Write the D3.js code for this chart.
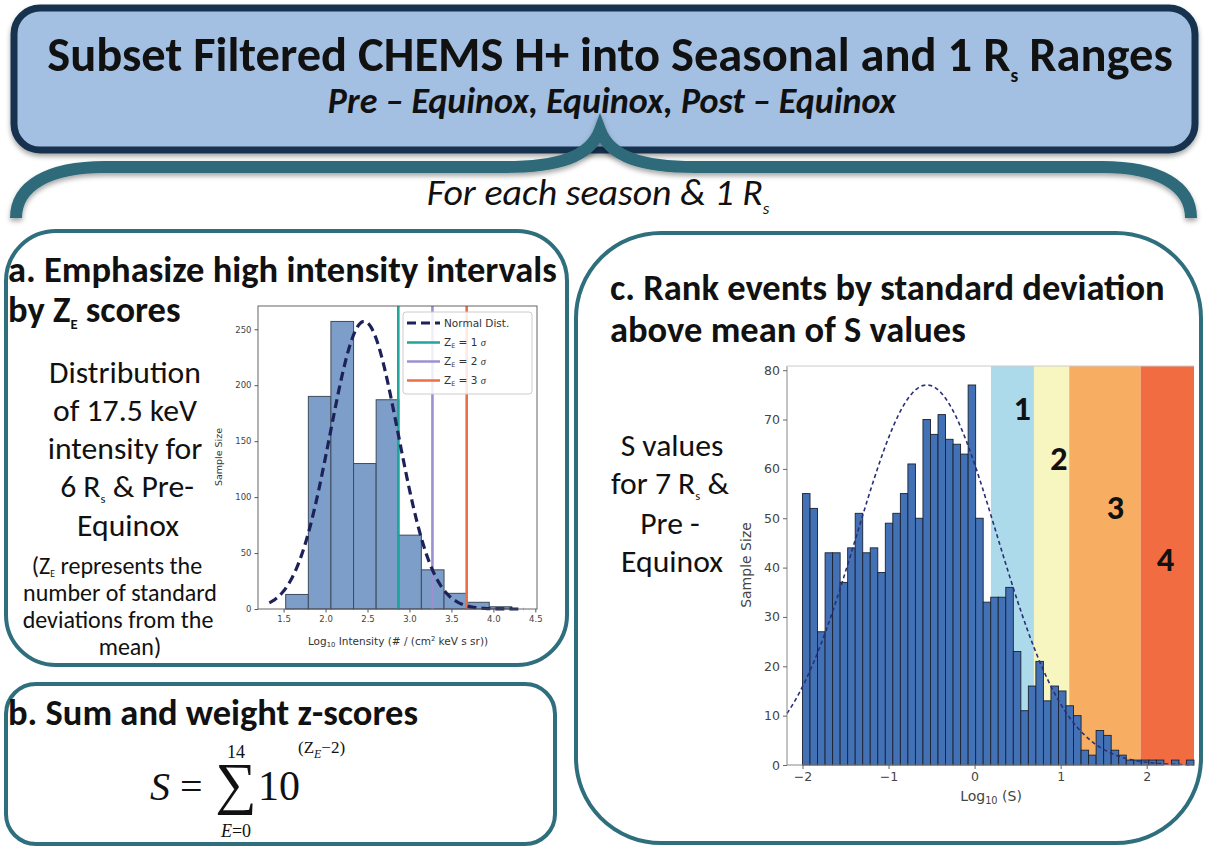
<!DOCTYPE html>
<html><head><meta charset="utf-8">
<script src="https://cdn.jsdelivr.net/npm/d3@7"></script>
<style>body{margin:0;background:#fff}svg{display:block}</style>
</head><body><svg id="chart" width="1207" height="852"></svg>
<script>
// ---------- DATA ----------
// Panel a: 17.5 keV intensity histogram (6 Rs, Pre-Equinox)
const intensityBinEdges = [1.525, 1.795, 2.064, 2.334, 2.603, 2.873, 3.142, 3.412, 3.681, 3.951, 4.22];
const intensityCounts   = [13, 190, 257, 130, 187, 66, 35, 14, 6, 2];
const intensityXTicks   = [1.5, 2.0, 2.5, 3.0, 3.5, 4.0, 4.5];
const intensityYTicks   = [0, 50, 100, 150, 200, 250];
const zScoreLineValues  = [2.867, 3.274, 3.682];
const zScoreNames       = ["1", "2", "3"];
const zScoreColors      = ["#1fa59c", "#9d8fd1", "#ec6e45"];
const intensityNormal   = { mean: 2.46, sd: 0.4075, peak: 257, from: 1.33, to: 4.36 };

// Panel c: Log10(S) histogram (7 Rs, Pre-Equinox)
const sBinStart = -2.0, sBinWidth = 0.0875;
const sCounts = [55,52,27,43,43,37,44,51,43,44,39,49,51,55,61,50,70,67,71,66,65,63,77,50,33,34,34,36,23,11,16,21,13,16,15,12,10,3,2,7,6,3,2,1,1,1,1,1,0,1,0,1];
const sXTicks = [-2, -1, 0, 1, 2];
const sYTicks = [0, 10, 20, 30, 40, 50, 60, 70, 80];
const sNormal = { mean: -0.555, sd: 0.813, peak: 77, from: -2.18, to: 2.55 };
const rankBandEdges  = [0.19, 0.69, 1.10, 1.93, 2.55];
const rankBandColors = ["#acdaea", "#f8f6c0", "#f8ae62", "#f26c42"];
const rankLabels     = ["1", "2", "3", "4"];
const rankLabelX     = [0.56, 0.98, 1.64, 2.22];
const rankLabelY     = [72, 62, 52, 41.5];

// ---------- HELPERS ----------
const SANS = "Carlito, Lato, 'Open Sans', sans-serif";
const MPL = "'DejaVu Sans', sans-serif";
const SERIF = "'Liberation Serif', 'DejaVu Serif', serif";
const TEAL = "#2f6f7d";
const svg = d3.select("#chart");
function fit(sel, target) {
  const w = sel.node().getBBox().width;
  const fs = parseFloat(sel.attr("font-size"));
  sel.attr("font-size", fs * target / w);
  return fs * target / w;
}
function addSub(sel, main, sub, rest, subScale, drop) {
  sel.append("tspan").text(main);
  sel.append("tspan").style("font-size", subScale + "em").attr("dy", (drop / subScale) + "em").text(sub);
  if (rest !== null) sel.append("tspan").style("font-size", "1em").attr("dy", (-drop) + "em").text(rest);
  return sel;
}

const defs = svg.append("defs");
const f = defs.append("filter").attr("id", "sh").attr("x", "-5%").attr("y", "-20%").attr("width", "110%").attr("height", "150%");
f.append("feDropShadow").attr("dx", 0).attr("dy", 3).attr("stdDeviation", 2.5).attr("flood-color", "#000").attr("flood-opacity", 0.35);

// ---------- TOP BOX ----------
svg.append("rect").attr("x", 14).attr("y", 8).attr("width", 1181).attr("height", 142).attr("rx", 26)
  .attr("fill", "#a3bfe1").attr("stroke", "#16334f").attr("stroke-width", 7).attr("filter", "url(#sh)");
const title = svg.append("text").attr("x", 610).attr("y", 71).attr("text-anchor", "middle")
  .attr("font-family", SANS).attr("font-weight", 700).attr("font-size", 40).attr("fill", "#111");
addSub(title, "Subset Filtered CHEMS H+ into Seasonal and 1 R", "s", " Ranges", 0.4, 0.22);
fit(title, 1126);
const sub = svg.append("text").attr("x", 612).attr("y", 113).attr("text-anchor", "middle")
  .attr("font-family", SANS).attr("font-weight", 700).attr("font-style", "italic").attr("font-size", 24).attr("fill", "#111")
  .text("Pre \u2013 Equinox, Equinox, Post \u2013 Equinox");
fit(sub, 570);

// ---------- BRACE ----------
svg.append("path")
  .attr("d", "M16,218 C16,186 48,167 105,167 L505,167 C558,167 590,157 600,130 C610,157 642,167 695,167 L1102,167 C1159,167 1191,186 1191,218")
  .attr("fill", "none").attr("stroke", "#2d6b79").attr("stroke-width", 12).attr("stroke-linejoin", "miter").attr("filter", "url(#sh)");
const each = svg.append("text").attr("x", 598).attr("y", 205).attr("text-anchor", "middle")
  .attr("font-family", SANS).attr("font-style", "italic").attr("font-size", 28).attr("fill", "#111");
addSub(each, "For each season & 1 R", "s", null, 0.45, 0.25);
fit(each, 343);

// ---------- PANEL BOXES ----------
svg.append("rect").attr("x", 6).attr("y", 231).attr("width", 561).attr("height", 434).attr("rx", 50)
  .attr("fill", "#fff").attr("stroke", TEAL).attr("stroke-width", 4);
svg.append("rect").attr("x", 6).attr("y", 684).attr("width", 549).attr("height", 160).attr("rx", 30)
  .attr("fill", "#fff").attr("stroke", TEAL).attr("stroke-width", 4);
svg.append("rect").attr("x", 576).attr("y", 233).attr("width", 625).attr("height", 610).attr("rx", 85)
  .attr("fill", "#fff").attr("stroke", TEAL).attr("stroke-width", 4);

// headings
const hA = svg.append("text").attr("x", 8).attr("y", 282).attr("font-family", SANS).attr("font-weight", 700)
  .attr("font-size", 30).attr("fill", "#111").text("a. Emphasize high intensity intervals");
const headSize = fit(hA, 549);
const hA2 = svg.append("text").attr("x", 8).attr("y", 322).attr("font-family", SANS).attr("font-weight", 700)
  .attr("font-size", headSize).attr("fill", "#111");
addSub(hA2, "by Z", "E", " scores", 0.4, 0.2);
svg.append("text").attr("x", 8).attr("y", 725).attr("font-family", SANS).attr("font-weight", 700)
  .attr("font-size", headSize).attr("fill", "#111").text("b. Sum and weight z-scores");
svg.append("text").attr("x", 610).attr("y", 300).attr("font-family", SANS).attr("font-weight", 700)
  .attr("font-size", headSize).attr("fill", "#111").text("c. Rank events by standard deviation");
svg.append("text").attr("x", 610).attr("y", 342).attr("font-family", SANS).attr("font-weight", 700)
  .attr("font-size", headSize).attr("fill", "#111").text("above mean of S values");

// side texts panel a
const d1 = svg.append("text").attr("x", 125).attr("y", 383).attr("text-anchor", "middle").attr("font-family", SANS)
  .attr("font-size", 30).attr("fill", "#111").text("Distribution");
const bodySize = fit(d1, 152);
const sideA = [["of 17.5 keV", 421], ["intensity for", 459]];
sideA.forEach(([t, y]) => svg.append("text").attr("x", 125).attr("y", y).attr("text-anchor", "middle")
  .attr("font-family", SANS).attr("font-size", bodySize).attr("fill", "#111").text(t));
addSub(svg.append("text").attr("x", 127).attr("y", 497).attr("text-anchor", "middle").attr("font-family", SANS)
  .attr("font-size", bodySize).attr("fill", "#111"), "6 R", "s", " & Pre-", 0.4, 0.2);
svg.append("text").attr("x", 128).attr("y", 536).attr("text-anchor", "middle").attr("font-family", SANS)
  .attr("font-size", bodySize).attr("fill", "#111").text("Equinox");
const sm = svg.append("text").attr("x", 120).attr("y", 601).attr("text-anchor", "middle").attr("font-family", SANS)
  .attr("font-size", 20).attr("fill", "#111").text("number of standard");
const smallSize = fit(sm, 194);
addSub(svg.append("text").attr("x", 117).attr("y", 574).attr("text-anchor", "middle").attr("font-family", SANS)
  .attr("font-size", smallSize).attr("fill", "#111"), "(Z", "E", " represents the", 0.4, 0.12);
svg.append("text").attr("x", 118).attr("y", 628).attr("text-anchor", "middle").attr("font-family", SANS)
  .attr("font-size", smallSize).attr("fill", "#111").text("deviations from the");
svg.append("text").attr("x", 130).attr("y", 655).attr("text-anchor", "middle").attr("font-family", SANS)
  .attr("font-size", smallSize).attr("fill", "#111").text("mean)");

// side texts panel c
svg.append("text").attr("x", 672).attr("y", 456).attr("text-anchor", "middle").attr("font-family", SANS)
  .attr("font-size", bodySize).attr("fill", "#111").text("S values");
addSub(svg.append("text").attr("x", 670).attr("y", 494).attr("text-anchor", "middle").attr("font-family", SANS)
  .attr("font-size", bodySize).attr("fill", "#111"), "for 7 R", "s", " &", 0.4, 0.2);
svg.append("text").attr("x", 670).attr("y", 534).attr("text-anchor", "middle").attr("font-family", SANS)
  .attr("font-size", bodySize).attr("fill", "#111").text("Pre -");
svg.append("text").attr("x", 672).attr("y", 572).attr("text-anchor", "middle").attr("font-family", SANS)
  .attr("font-size", bodySize).attr("fill", "#111").text("Equinox");

// ---------- FORMULA (panel b) ----------
const fy = 800;
svg.append("text").attr("x", 150).attr("y", fy).attr("font-family", SERIF).attr("font-style", "italic")
  .attr("font-size", 40).attr("fill", "#111").text("S");
svg.append("text").attr("x", 180).attr("y", fy).attr("font-family", SERIF).attr("font-size", 40).attr("fill", "#111").text("=");
svg.append("text").attr("x", 236).attr("y", 803).attr("text-anchor", "middle").attr("font-family", SERIF)
  .attr("font-size", 58).attr("fill", "#111").text("\u2211");
svg.append("text").attr("x", 236).attr("y", 758).attr("text-anchor", "middle").attr("font-family", SERIF)
  .attr("font-size", 18).attr("fill", "#111").text("14");
const e0 = svg.append("text").attr("x", 236).attr("y", 837).attr("text-anchor", "middle").attr("font-family", SERIF)
  .attr("font-size", 18).attr("fill", "#111");
e0.append("tspan").attr("font-style", "italic").text("E");
e0.append("tspan").text("=0");
svg.append("text").attr("x", 258).attr("y", fy).attr("font-family", SERIF).attr("font-size", 42).attr("fill", "#111").text("10");
const ex = svg.append("text").attr("x", 298).attr("y", 753).attr("font-family", SERIF).attr("font-size", 17).attr("fill", "#111");
ex.append("tspan").text("(Z");
ex.append("tspan").attr("font-style", "italic").style("font-size", "0.7em").attr("dy", "0.4em").text("E");
ex.append("tspan").style("font-size", "1em").attr("dy", "-0.28em").text("\u22122)");

// ---------- PANEL a CHART ----------
const xA = d3.scaleLinear().domain([1.195, 4.52]).range([258, 537]);
const yA = d3.scaleLinear().domain([0, 270.8]).range([609, 306]);
const gA = svg.append("g");
gA.selectAll("rect.bar").data(intensityCounts).join("rect").attr("class", "bar")
  .attr("x", (d, i) => xA(intensityBinEdges[i]))
  .attr("width", (d, i) => xA(intensityBinEdges[i + 1]) - xA(intensityBinEdges[i]))
  .attr("y", d => yA(d)).attr("height", d => yA(0) - yA(d))
  .attr("fill", "#7d9ec9").attr("stroke", "#3e4b5c").attr("stroke-width", 1);
const nA = d3.range(intensityNormal.from, intensityNormal.to + 0.001, 0.01).map(x =>
  [x, intensityNormal.peak * Math.exp(-Math.pow(x - intensityNormal.mean, 2) / (2 * intensityNormal.sd * intensityNormal.sd))]);
gA.selectAll("line.z").data(zScoreLineValues).join("line").attr("class", "z")
  .attr("x1", d => xA(d)).attr("x2", d => xA(d)).attr("y1", yA.range()[1]).attr("y2", yA(0))
  .attr("stroke", (d, i) => zScoreColors[i]).attr("stroke-width", 2.6);
gA.append("path").attr("d", d3.line().x(d => xA(d[0])).y(d => yA(d[1]))(nA))
  .attr("fill", "none").attr("stroke", "#1c2159").attr("stroke-width", 3.2).attr("stroke-dasharray", "9,5");
gA.append("rect").attr("x", 258).attr("y", 306).attr("width", 279).attr("height", 303)
  .attr("fill", "none").attr("stroke", "#555").attr("stroke-width", 0.9);
const axA = gA.append("g").attr("transform", "translate(0,609)")
  .call(d3.axisBottom(xA).tickValues(intensityXTicks).tickFormat(d3.format(".1f")).tickSize(3.5).tickPadding(3));
const ayA = gA.append("g").attr("transform", "translate(258,0)")
  .call(d3.axisLeft(yA).tickValues(intensityYTicks).tickSize(3.5).tickPadding(3));
[axA, ayA].forEach(a => {
  a.select(".domain").remove();
  a.selectAll("text").attr("font-family", MPL).attr("font-size", 8.5).attr("fill", "#444");
  a.selectAll("line").attr("stroke", "#555");
});
gA.append("text").attr("transform", "translate(222,457) rotate(-90)").attr("text-anchor", "middle")
  .attr("font-family", MPL).attr("font-size", 9.5).attr("fill", "#333").text("Sample Size");
const xlA = gA.append("text").attr("x", 398).attr("y", 645).attr("text-anchor", "middle")
  .attr("font-family", MPL).attr("font-size", 10.5).attr("fill", "#333");
xlA.append("tspan").text("Log");
xlA.append("tspan").style("font-size", "0.65em").attr("dy", "0.35em").text("10");
xlA.append("tspan").style("font-size", "1em").attr("dy", "-0.23em").text(" Intensity (# / (cm");
xlA.append("tspan").style("font-size", "0.65em").attr("dy", "-0.6em").text("2");
xlA.append("tspan").style("font-size", "1em").attr("dy", "0.39em").text(" keV s sr))");
// legend
const lg = gA.append("g");
lg.append("rect").attr("x", 403).attr("y", 312).attr("width", 129).attr("height", 82).attr("rx", 3)
  .attr("fill", "#fff").attr("fill-opacity", 0.85).attr("stroke", "#ccc");
const legRows = [323, 342.5, 361.5, 380.5];
lg.append("line").attr("x1", 407).attr("x2", 440).attr("y1", legRows[0]).attr("y2", legRows[0])
  .attr("stroke", "#1c2159").attr("stroke-width", 3.2).attr("stroke-dasharray", "9,5");
lg.append("text").attr("x", 444).attr("y", legRows[0] + 3.8).attr("font-family", MPL).attr("font-size", 10.5)
  .attr("fill", "#333").text("Normal Dist.");
zScoreNames.forEach((n, i) => {
  const y = legRows[i + 1];
  lg.append("line").attr("x1", 407).attr("x2", 440).attr("y1", y).attr("y2", y)
    .attr("stroke", zScoreColors[i]).attr("stroke-width", 2.6);
  const t = lg.append("text").attr("x", 444).attr("y", y + 3.8).attr("font-family", MPL).attr("font-size", 10.5).attr("fill", "#333");
  t.append("tspan").text("Z");
  t.append("tspan").style("font-size", "0.6em").attr("dy", "0.3em").text("E");
  t.append("tspan").style("font-size", "1em").attr("dy", "-0.18em").text(" = " + n + " ");
  t.append("tspan").attr("font-style", "italic").attr("font-family", SERIF).text("\u03c3");
});

// ---------- PANEL c CHART ----------
const xC = d3.scaleLinear().domain([-2.18, 2.55]).range([787, 1194]);
const yC = d3.scaleLinear().domain([0, 80.85]).range([765, 366]);
const gC = svg.append("g");
gC.selectAll("rect.band").data(rankBandColors).join("rect").attr("class", "band")
  .attr("x", (d, i) => xC(rankBandEdges[i])).attr("width", (d, i) => xC(rankBandEdges[i + 1]) - xC(rankBandEdges[i]))
  .attr("y", yC.range()[1]).attr("height", yC(0) - yC.range()[1]).attr("fill", d => d);
gC.selectAll("rect.bar").data(sCounts).join("rect").attr("class", "bar")
  .attr("x", (d, i) => xC(sBinStart + i * sBinWidth))
  .attr("width", (d, i) => xC(sBinStart + (i + 1) * sBinWidth) - xC(sBinStart + i * sBinWidth))
  .attr("y", d => yC(d)).attr("height", d => yC(0) - yC(d))
  .attr("fill", "#4271b6").attr("stroke", "#1b2230").attr("stroke-width", 0.9);
const nC = d3.range(sNormal.from, sNormal.to + 0.001, 0.01).map(x =>
  [x, sNormal.peak * Math.exp(-Math.pow(x - sNormal.mean, 2) / (2 * sNormal.sd * sNormal.sd))]);
gC.append("path").attr("d", d3.line().x(d => xC(d[0])).y(d => yC(d[1]))(nC))
  .attr("fill", "none").attr("stroke", "#2a2f78").attr("stroke-width", 1.6).attr("stroke-dasharray", "4,3");
gC.selectAll("text.rank").data(rankLabels).join("text").attr("class", "rank")
  .attr("x", (d, i) => xC(rankLabelX[i])).attr("y", (d, i) => yC(rankLabelY[i]))
  .attr("dy", "0.36em").attr("text-anchor", "middle").attr("font-family", "Lato, sans-serif").attr("font-weight", 900)
  .attr("font-size", 30).attr("fill", "#111").text(d => d);
gC.append("path").attr("d", `M787,366 L787,765 L1194,765`).attr("fill", "none").attr("stroke", "#888").attr("stroke-width", 1);
gC.append("line").attr("x1", 787).attr("x2", 1194).attr("y1", 366).attr("y2", 366).attr("stroke", "#ccc").attr("stroke-width", 1);
const axC = gC.append("g").attr("transform", "translate(0,765)")
  .call(d3.axisBottom(xC).tickValues(sXTicks).tickFormat(d3.format("d")).tickSize(4).tickPadding(3));
const ayC = gC.append("g").attr("transform", "translate(787,0)")
  .call(d3.axisLeft(yC).tickValues(sYTicks).tickSize(4).tickPadding(3));
[axC, ayC].forEach(a => {
  a.select(".domain").remove();
  a.selectAll("text").attr("font-family", MPL).attr("font-size", 12.5).attr("fill", "#444");
  a.selectAll("line").attr("stroke", "#666");
});
gC.append("text").attr("transform", "translate(751,565) rotate(-90)").attr("text-anchor", "middle")
  .attr("font-family", MPL).attr("font-size", 14).attr("fill", "#444").text("Sample Size");
const xlC = gC.append("text").attr("x", 991).attr("y", 801).attr("text-anchor", "middle")
  .attr("font-family", MPL).attr("font-size", 14).attr("fill", "#444");
xlC.append("tspan").text("Log");
xlC.append("tspan").style("font-size", "0.7em").attr("dy", "0.3em").text("10");
xlC.append("tspan").style("font-size", "1em").attr("dy", "-0.21em").text(" (S)");
</script></body></html>
